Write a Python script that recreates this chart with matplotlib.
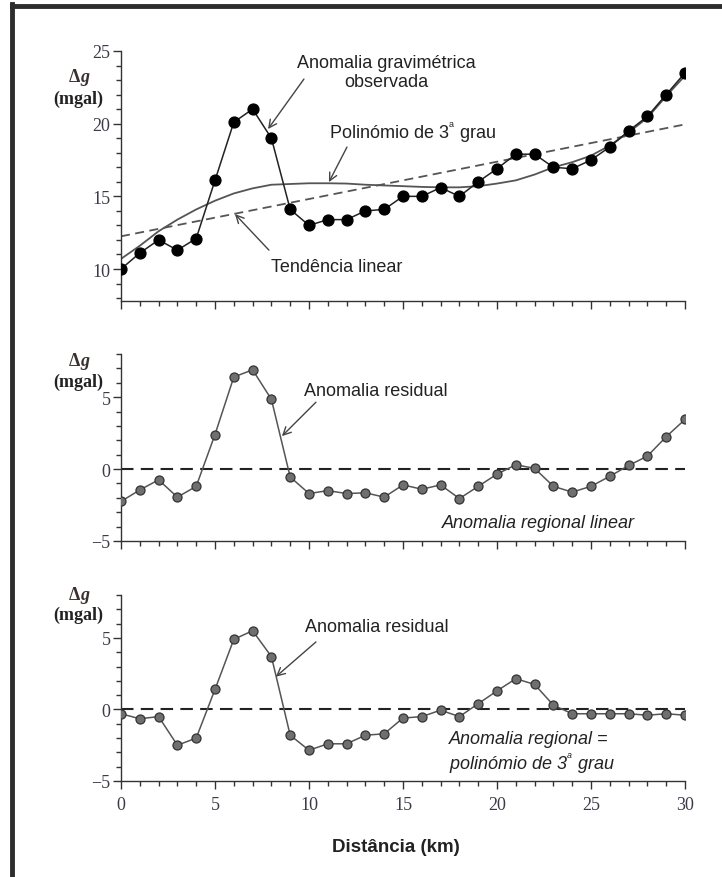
import numpy as np
import matplotlib
matplotlib.use("Agg")
import matplotlib.pyplot as plt
from matplotlib.lines import Line2D

plt.rcParams['font.family'] = ['Liberation Sans', 'DejaVu Sans']
plt.rcParams['mathtext.fontset'] = 'custom'
plt.rcParams['mathtext.rm'] = 'Liberation Sans'
plt.rcParams['mathtext.it'] = 'Liberation Sans:italic'

# distance along the profile (km)
km = list(range(31))

# observed gravity anomaly (mgal)
observed = [10.0, 11.1, 12.0, 11.3, 12.1, 16.1, 20.1, 21.0, 19.0, 14.1,
            13.0, 13.4, 13.4, 14.0, 14.1, 15.0, 15.0, 15.6, 15.0, 16.0,
            16.9, 17.9, 17.9, 17.0, 16.9, 17.5, 18.4, 19.5, 20.5, 22.0, 23.5]

# linear regional trend, end points
trend_km = [0, 30]
trend_linear = [12.25, 19.95]

# 3rd degree polynomial regional
regional_cubic = [10.7, 11.6, 12.6, 13.4, 14.1, 14.7, 15.2, 15.55, 15.8, 15.85,
                  15.9, 15.9, 15.88, 15.8, 15.75, 15.7, 15.65, 15.62, 15.62, 15.7,
                  15.88, 16.1, 16.5, 17.0, 17.35, 17.8, 18.5, 19.4, 20.4, 21.9, 23.3]

# residuals
residual_linear = [-2.25, -1.45, -0.75, -1.95, -1.2, 2.4, 6.4, 6.9, 4.85, -0.55,
                   -1.7, -1.5, -1.7, -1.65, -1.95, -1.1, -1.4, -1.1, -2.05, -1.2,
                   -0.35, 0.3, 0.05, -1.2, -1.6, -1.2, -0.5, 0.25, 0.9, 2.25, 3.45]

residual_cubic = [-0.3, -0.65, -0.5, -2.5, -2.0, 1.4, 4.9, 5.5, 3.7, -1.8,
                  -2.85, -2.4, -2.4, -1.8, -1.7, -0.6, -0.5, -0.05, -0.5, 0.4,
                  1.3, 2.15, 1.75, 0.3, -0.3, -0.3, -0.3, -0.3, -0.4, -0.3, -0.4]

W, H = 722, 878
fig = plt.figure(figsize=(W / 100, H / 100), dpi=100)
fig.patch.set_facecolor('white')

x0, x1 = 121, 685


def make_axes(top_px, bot_px):
    return fig.add_axes([x0 / W, 1 - bot_px / H, (x1 - x0) / W, (bot_px - top_px) / H])


ax1 = make_axes(52, 302)
ax2 = make_axes(355, 542)
ax3 = make_axes(596, 782)

tick_color = '#3a3a48'
for ax in (ax1, ax2, ax3):
    ax.set_xlim(0, 30)
    for s in ('top', 'right'):
        ax.spines[s].set_visible(False)
    for s in ('left', 'bottom'):
        ax.spines[s].set_color('#333333')
        ax.spines[s].set_linewidth(1.0)
    ax.set_xticks(range(0, 31, 5))
    ax.set_xticks(range(0, 31), minor=True)
    ax.tick_params(which='major', direction='out', length=6, width=1.0, color='#333333')
    ax.tick_params(which='minor', direction='out', length=3.5, width=1.0, color='#333333')
    ax.tick_params(axis='y', which='major', pad=1.5)
    ax.patch.set_alpha(0)

ax1.set_ylim(7.8, 25)
ax1.set_yticks([10, 15, 20, 25])
ax1.set_yticks(range(8, 26), minor=True)
for ax in (ax2, ax3):
    ax.set_ylim(-5, 8)
    ax.set_yticks([-5, 0, 5])
    ax.set_yticks(range(-5, 9), minor=True)
    ax.set_yticklabels(['\u22125', '0', '5'])

for ax in (ax1, ax2):
    ax.set_xticklabels([])
ax3.tick_params(axis='x', which='major', pad=5)

for ax in (ax1, ax2, ax3):
    for lab in ax.get_yticklabels() + ax.get_xticklabels():
        lab.set_fontfamily(['Liberation Serif', 'DejaVu Serif'])
        lab.set_fontsize(13)
        lab.set_color(tick_color)

# top panel: observed data, linear trend and cubic regional
ax1.plot(trend_km, trend_linear, color='#555555', lw=1.3, ls=(0, (5, 3)))
ax1.plot(km, regional_cubic, color='#555555', lw=1.3)
ax1.plot(km, observed, color='#222222', lw=1.1, marker='o', ms=7.8,
         mfc='black', mec='black', zorder=3)

# residual panels
for ax, res in ((ax2, residual_linear), (ax3, residual_cubic)):
    ax.axhline(0, color='#222222', lw=1.5, ls=(0, (6, 3.5)), zorder=1)
    ax.plot(km, res, color='#555555', lw=1.1, marker='o', ms=6.5,
            mfc='#6f6f6f', mec='#333333', mew=0.9, zorder=3)

ann_kw = dict(fontsize=13, color='#222222')
arrow = dict(arrowstyle='->', color='#444444', lw=1.0, mutation_scale=14,
             shrinkA=0, shrinkB=0)

ax1.text(14.1, 23.55, 'Anomalia gravimétrica\nobservada', ha='center', va='center',
         linespacing=1.15, **ann_kw)
ax1.annotate('', xy=(7.82, 19.63), xytext=(9.73, 23.07), arrowprops=arrow)
ax1.text(15.5, 19.43, 'Polinómio de 3$^{^{\\mathrm{a}}}$ grau', ha='center', va='center', **ann_kw)
ax1.annotate('', xy=(11.06, 15.98), xytext=(12.02, 18.39), arrowprops=arrow)
ax1.text(11.49, 10.2, 'Tendência linear', ha='center', va='center', **ann_kw)
ax1.annotate('', xy=(6.06, 13.78), xytext=(7.87, 11.3), arrowprops=arrow)

ax2.text(13.56, 5.49, 'Anomalia residual', ha='center', va='center', **ann_kw)
ax2.annotate('', xy=(8.56, 2.29), xytext=(10.37, 4.65), arrowprops=arrow)
ax2.text(22.18, -3.68, 'Anomalia regional linear', ha='center', va='center',
         style='italic', **ann_kw)

ax3.text(13.6, 5.83, 'Anomalia residual', ha='center', va='center', **ann_kw)
ax3.annotate('', xy=(8.24, 2.29), xytext=(10.37, 4.72), arrowprops=arrow)
ax3.text(17.45, -2.99, 'Anomalia regional =\npolinómio de 3$^{^{a}}$ grau', ha='left',
         va='center', style='italic', linespacing=1.15, **ann_kw)

fig.text(396 / W, 1 - 848 / H, 'Distância (km)', ha='center', va='center',
         fontsize=13.5, fontweight='bold', color='#222222')

# y labels: Δg (mgal)
serif = ['Liberation Serif', 'DejaVu Serif']
for dg_y, mg_y in ((78, 99), (362, 382), (595, 615)):
    fig.text(80 / W, 1 - dg_y / H, 'Δ', ha='right', va='center', fontsize=13,
             fontweight='bold', family=serif, color='#3a3030')
    fig.text(80 / W, 1 - dg_y / H, 'g', ha='left', va='center', fontsize=13,
             fontweight='bold', style='italic', family=serif, color='#3a3030')
    fig.text(78 / W, 1 - mg_y / H, '(mgal)', ha='center', va='center', fontsize=13,
             fontweight='bold', family=serif, color='#222222')

# outer frame (left and top edges)
fig.add_artist(Line2D([12 / W, 12 / W], [0, 1 - 4.5 / H], transform=fig.transFigure,
                      color='#2d2d2d', lw=3.5, solid_capstyle='projecting'))
fig.add_artist(Line2D([12 / W, 1], [1 - 6.5 / H, 1 - 6.5 / H], transform=fig.transFigure,
                      color='#2d2d2d', lw=3.5, solid_capstyle='projecting'))

fig.savefig('out.png', dpi=100, facecolor='white')
